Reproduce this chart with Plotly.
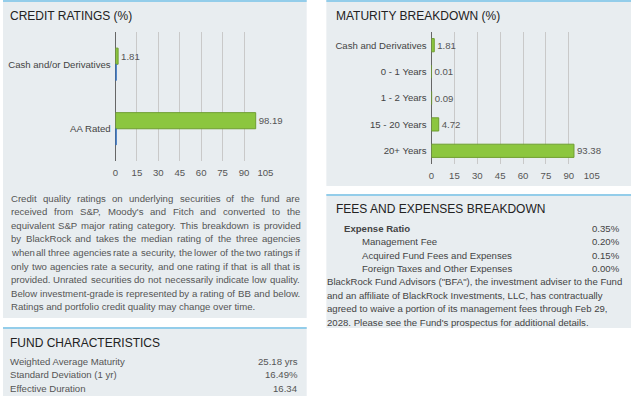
import plotly.graph_objects as go

# ---------------- data ----------------
credit_categories = ["Cash and/or Derivatives", "AA Rated"]
credit_fund = [1.81, 98.19]
credit_benchmark = [0.5, 0.5]

maturity_categories = ["Cash and Derivatives", "0 - 1 Years", "1 - 2 Years",
                       "15 - 20 Years", "20+ Years"]
maturity_fund = [1.81, 0.01, 0.09, 4.72, 93.38]

x_ticks = [0, 15, 30, 45, 60, 75, 90, 105]

fee_labels = ["Expense Ratio", "Management Fee", "Acquired Fund Fees and Expenses",
              "Foreign Taxes and Other Expenses"]
fee_values = ["0.35%", "0.20%", "0.15%", "0.00%"]

fund_labels = ["Weighted Average Maturity", "Standard Deviation (1 yr)", "Effective Duration"]
fund_values = ["25.18 yrs", "16.49%", "16.34"]

credit_note = [
    "Credit quality ratings on underlying securities of the fund are",
    "received from S&P, Moody's and Fitch and converted to the",
    "equivalent S&P major rating category. This breakdown is provided",
    "by BlackRock and takes the median rating of the three agencies",
    "when all three agencies rate a security, the lower of the two ratings if",
    "only two agencies rate a security, and one rating if that is all that is",
    "provided. Unrated securities do not necessarily indicate low quality.",
    "Below investment-grade is represented by a rating of BB and below.",
    "Ratings and portfolio credit quality may change over time.",
]

fee_note = [
    'BlackRock Fund Advisors ("BFA"), the investment adviser to the Fund',
    "and an affiliate of BlackRock Investments, LLC, has contractually",
    "agreed to waive a portion of its management fees through Feb 29,",
    "2028. Please see the Fund's prospectus for additional details.",
]

# ---------------- helpers ----------------
W, H = 640, 396
FONT = "Liberation Sans, Arial, Helvetica, sans-serif"
PANEL = "#e8edf0"
BORDER = "#93cdea"
GREEN = "#8cc63f"
GREEN_LINE = "#6f9e30"
BLUE = "#2f6fc0"
TITLE_C = "#222222"
TEXT_C = "#555555"
SMALL = 9.6


def px(x):
    return x / W


def py(y):
    return 1 - y / H


AW = {}
for ch, w in zip("abcdefghijklmnopqrstuvwxyz",
                 [556, 556, 500, 556, 556, 278, 556, 556, 222, 222, 500, 222, 833,
                  556, 556, 556, 556, 333, 500, 278, 556, 500, 722, 500, 500, 500]):
    AW[ch] = w
for ch, w in zip("ABCDEFGHIJKLMNOPQRSTUVWXYZ",
                 [667, 667, 722, 722, 667, 611, 778, 722, 278, 500, 667, 556, 833,
                  722, 778, 667, 778, 722, 667, 611, 722, 667, 944, 667, 667, 611]):
    AW[ch] = w
for ch in "0123456789":
    AW[ch] = 556
AW.update({" ": 278, ".": 278, ",": 278, "'": 191, "&": 667, "-": 333, "(": 333,
           ")": 333, '"': 355, "/": 278, "%": 889, ":": 278})


def text_w(s, size):
    return sum(AW.get(c, 556) for c in s) * size / 1000.0


annotations = []


def ann(text, x, y, size=SMALL, color=TEXT_C, anchor="left", bold=False):
    annotations.append(dict(
        text=f"<b>{text}</b>" if bold else text,
        x=px(x), y=py(y), xref="paper", yref="paper",
        xanchor=anchor, yanchor="middle", showarrow=False,
        borderpad=0, borderwidth=0,
        font=dict(family=FONT, size=size, color=color),
    ))


def justified(lines, x0, x1, y0, pitch, size, color):
    for i, line in enumerate(lines):
        y = y0 + i * pitch
        words = line.split(" ")
        if i == len(lines) - 1 or len(words) == 1:
            ann(line, x0, y, size, color)
            continue
        widths = [text_w(w, size) for w in words]
        gap = (x1 - x0 - sum(widths)) / (len(words) - 1)
        x = x0
        for w, wd in zip(words, widths):
            ann(w, x, y, size, color)
            x += wd + gap


shapes = []


def panel(x0, x1, y0, y1):
    shapes.append(dict(type="rect", xref="paper", yref="paper", layer="below",
                       x0=px(x0), x1=px(x1), y0=py(y1), y1=py(y0),
                       fillcolor=PANEL, line=dict(width=0)))
    shapes.append(dict(type="rect", xref="paper", yref="paper", layer="below",
                       x0=px(x0), x1=px(x1), y0=py(y0 + 2), y1=py(y0),
                       fillcolor=BORDER, line=dict(width=0)))


panel(0, 309, 0, 318)
panel(329, 639, 0, 186)
panel(329, 639, 194, 328)
panel(0, 309, 327, 396)

# ---------------- figure ----------------
fig = go.Figure()

fig.add_trace(go.Bar(
    y=credit_categories, x=credit_fund, orientation="h",
    marker=dict(color=GREEN, line=dict(color=GREEN_LINE, width=1)),
    text=[f"{v:.2f}" for v in credit_fund], textposition="outside",
    textfont=dict(family=FONT, size=SMALL, color=TEXT_C),
    cliponaxis=False, constraintext="none",
    xaxis="x", yaxis="y", hoverinfo="skip", showlegend=False,
))
fig.add_trace(go.Bar(
    y=credit_categories, x=credit_benchmark, orientation="h",
    marker=dict(color=BLUE, line=dict(color=BLUE, width=1)),
    xaxis="x", yaxis="y", hoverinfo="skip", showlegend=False,
))
fig.add_trace(go.Bar(
    y=maturity_categories, x=maturity_fund, orientation="h",
    marker=dict(color=GREEN, line=dict(color=GREEN_LINE, width=1)),
    text=[f"{v:.2f}" for v in maturity_fund], textposition="outside",
    textfont=dict(family=FONT, size=SMALL, color=TEXT_C),
    cliponaxis=False, constraintext="none",
    xaxis="x2", yaxis="y2", hoverinfo="skip", showlegend=False,
))

xcommon = dict(range=[0, 105], tickvals=x_ticks, showgrid=True, gridcolor="#c9c9c9",
               gridwidth=1, zeroline=False, showline=False, ticks="",
               tickfont=dict(family=FONT, size=SMALL, color=TEXT_C),
               ticklabelstandoff=4, fixedrange=True)
ycommon = dict(showgrid=False, zeroline=False, showline=True, linecolor="#666666",
               linewidth=1, ticks="", layer="below traces",
               tickfont=dict(family=FONT, size=SMALL, color="#444444"),
               ticklabelstandoff=2, fixedrange=True)

fig.update_layout(
    width=W, height=H, autosize=False,
    margin=dict(l=0, r=0, t=0, b=0),
    paper_bgcolor="white", plot_bgcolor="rgba(0,0,0,0)",
    barmode="group", bargap=0.5, bargroupgap=0,
    xaxis=dict(domain=[px(114.5), px(267)], anchor="y", **xcommon),
    yaxis=dict(domain=[py(161), py(32)], anchor="x", range=[1.5, -0.5],
               type="category", **ycommon),
    xaxis2=dict(domain=[px(436), px(599)], anchor="y2", **xcommon),
    yaxis2=dict(domain=[py(164), py(32)], anchor="x2", range=[4.5, -0.5],
                type="category", **ycommon),
    shapes=shapes,
    font=dict(family=FONT),
)

# titles
ann("CREDIT RATINGS (%)", 7, 16, 12, TITLE_C)
ann("MATURITY BREAKDOWN (%)", 339, 16, 12, TITLE_C)
ann("FEES AND EXPENSES BREAKDOWN", 339, 209, 12, TITLE_C)
ann("FUND CHARACTERISTICS", 7, 343, 12, TITLE_C)

# credit note (justified)
justified(credit_note, 8, 302, 198, 13.6, SMALL, TEXT_C)

# fees rows
fee_x = [347, 365, 365, 365]
fee_y = [228, 241.5, 255, 268.5]
for i, (lab, val) in enumerate(zip(fee_labels, fee_values)):
    ann(lab, fee_x[i], fee_y[i], SMALL, "#444444", bold=(i == 0))
    ann(val, 628, fee_y[i], SMALL, "#444444", anchor="right")

for i, line in enumerate(fee_note):
    ann(line, 330, 281.5 + i * 13.5, SMALL, "#444444")

# fund characteristics
fund_y = [361.5, 374.5, 388]
for lab, val, y in zip(fund_labels, fund_values, fund_y):
    ann(lab, 7, y, SMALL, TEXT_C)
    ann(val, 300, y, SMALL, TEXT_C, anchor="right")

fig.update_layout(annotations=annotations)

post = (
    "document.documentElement.style.overflow='hidden';"
    "document.body.style.margin='0';"
    "document.body.style.padding='0';"
    "document.body.style.overflow='hidden';"
)
fig.write_html(
    "out.html",
    config={"displayModeBar": False, "responsive": False},
    post_script=post,
)
